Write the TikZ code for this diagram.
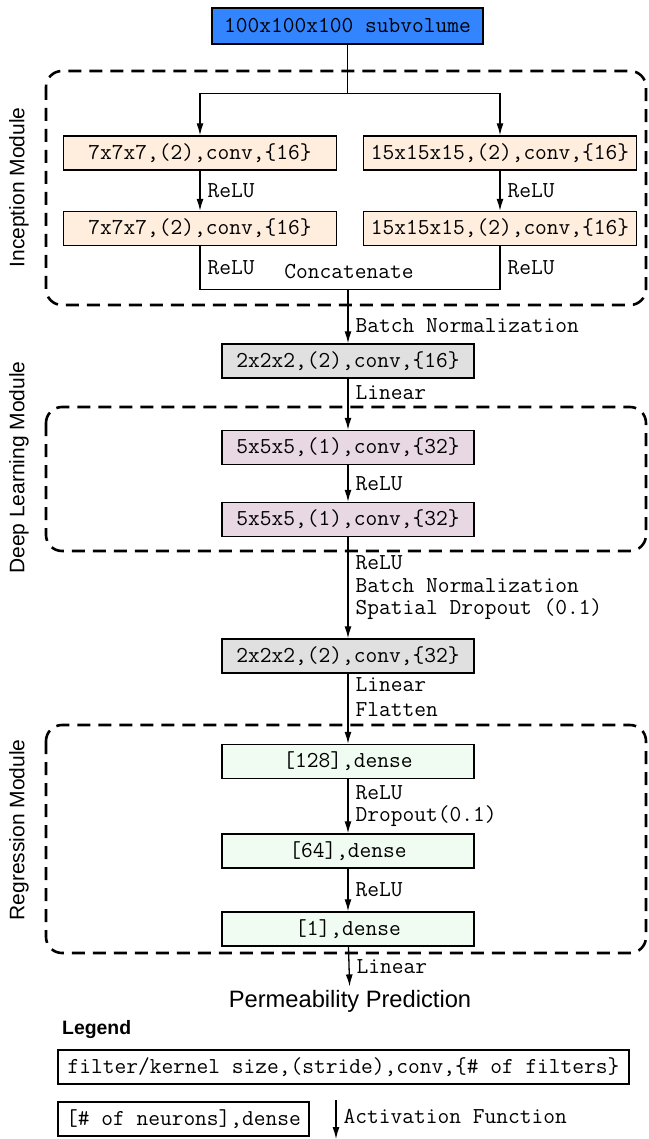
\documentclass[tikz,border=0pt]{standalone}
\usepackage{fontspec}
\setmainfont{Liberation Sans}
\newcommand\codefont{\ttfamily}
\usetikzlibrary{arrows.meta, positioning}

\definecolor{inputblue}{RGB}{51,133,255}
\definecolor{incpeach}{RGB}{255,237,222}
\definecolor{poolgray}{RGB}{224,224,224}
\definecolor{deepmauve}{RGB}{232,216,228}
\definecolor{densemint}{RGB}{240,252,242}

\begin{document}
\begin{tikzpicture}[x=1pt, y=-1pt,
layer/.style={draw, line width=1.4pt, inner sep=0pt, minimum height=34pt, font=\codefont\fontsize{22.8}{24}\selectfont},
inputbox/.style={layer, fill=inputblue, minimum width=271pt, minimum height=36pt},
incbox/.style={layer, fill=incpeach, minimum width=273pt},
poolbox/.style={layer, fill=poolgray, minimum width=252pt},
deepbox/.style={layer, fill=deepmauve, minimum width=252pt},
densebox/.style={layer, fill=densemint, minimum width=252pt},
keybox/.style={layer, fill=white, line width=1.2pt},
link/.style={line width=1.3pt},
flow/.style={link, -{Latex[length=12pt,width=7pt]}},
act/.style={right, xshift=7pt, inner sep=0pt, align=left, font=\codefont\fontsize{22.8}{22.5}\selectfont},
module/.style={line width=2.6pt, dash pattern=on 13pt off 8pt, rounded corners=16pt},
modname/.style={rotate=90, font=\fontsize{21}{24}\selectfont}
]
\useasboundingbox (0,0) rectangle (648,1139);

% module frames
\draw[module] (46,71) rectangle (646,305);
\draw[module] (46,407) rectangle (646,551);
\draw[module] (46,725) rectangle (646,953);
\node[modname] (incname) at (19,187.5) {Inception Module};
\node[modname] (deepname) at (19,467.5) {Deep Learning Module};
\node[modname] (regname) at (19,830) {Regression Module};

% inception branch
\node[inputbox] (input) at (347.5,26) {100x100x100 subvolume};
\node[incbox] (a1) at (200,153) {7x7x7,(2),conv,\{16\}};
\node[incbox] (b1) at (500,153) {15x15x15,(2),conv,\{16\}};
\node[incbox] (a2) at (200,228.5) {7x7x7,(2),conv,\{16\}};
\node[incbox] (b2) at (500,228.5) {15x15x15,(2),conv,\{16\}};
\path (input.south) ++(0,49) coordinate (split);
\draw[link] (input.south) -- (split);
\draw[flow] (split) -| (a1.north);
\draw[flow] (split) -| (b1.north);
\draw[flow] (a1) -- node[act] {ReLU} (a2);
\draw[flow] (b1) -- node[act] {ReLU} (b2);
\path (a2.south) ++(0,43) coordinate (joinL);
\draw[link] (a2.south) -- node[act] {ReLU} (joinL) -| node[act, pos=0.75] {ReLU} (b2.south);
\node[font=\codefont\fontsize{22.8}{24}\selectfont] (concat) at (349,272) {Concatenate};

% main chain
\node[poolbox] (p1) at (348,361) {2x2x2,(2),conv,\{16\}};
\node[deepbox] (d1) at (348,447.5) {5x5x5,(1),conv,\{32\}};
\node[deepbox] (d2) at (348,519.5) {5x5x5,(1),conv,\{32\}};
\node[poolbox] (p2) at (348,656) {2x2x2,(2),conv,\{32\}};
\node[densebox] (r1) at (348,761.5) {[128],dense};
\node[densebox] (r2) at (348,851) {[64],dense};
\node[densebox] (r3) at (348,929) {[1],dense};
\node[font=\fontsize{23.7}{26}\selectfont] (out) at (350,1001) {Permeability Prediction};

\draw[flow] (joinL -| p1.north) -- node[act, pos=0.68] {Batch Normalization} (p1.north);
\draw[flow] (p1) -- node[act, pos=0.27] {Linear} (d1);
\draw[flow] (d1) -- node[act] {ReLU} (d2);
\draw[flow] (d2) -- node[act] {ReLU\\Batch Normalization\\Spatial Dropout (0.1)} (p2);
\draw[flow] (p2) -- node[act, pos=0.34, font=\codefont\fontsize{22.8}{25}\selectfont] {Linear\\Flatten} (r1);
\draw[flow] (r1) -- node[act] {ReLU\\Dropout(0.1)} (r2);
\draw[flow] (r2) -- node[act] {ReLU} (r3);
\draw[flow] (r3) -- node[act] {Linear} (out);

% legend
\node[anchor=west, inner sep=0pt, font=\bfseries\fontsize{19.4}{22}\selectfont] (legend) at (62,1030) {Legend};
\node[keybox, minimum width=571pt] (keyconv) at (343.5,1067) {filter/kernel size,(stride),conv,\{\# of filters\}};
\node[keybox, minimum width=251pt] (keydense) at (183.5,1119) {[\# of neurons],dense};
\coordinate (keytop) at (336,1100);
\coordinate (keybot) at (336,1139);
\draw[flow] (keytop) -- node[act, pos=0.42] {Activation Function} (keybot);
\end{tikzpicture}
\end{document}
